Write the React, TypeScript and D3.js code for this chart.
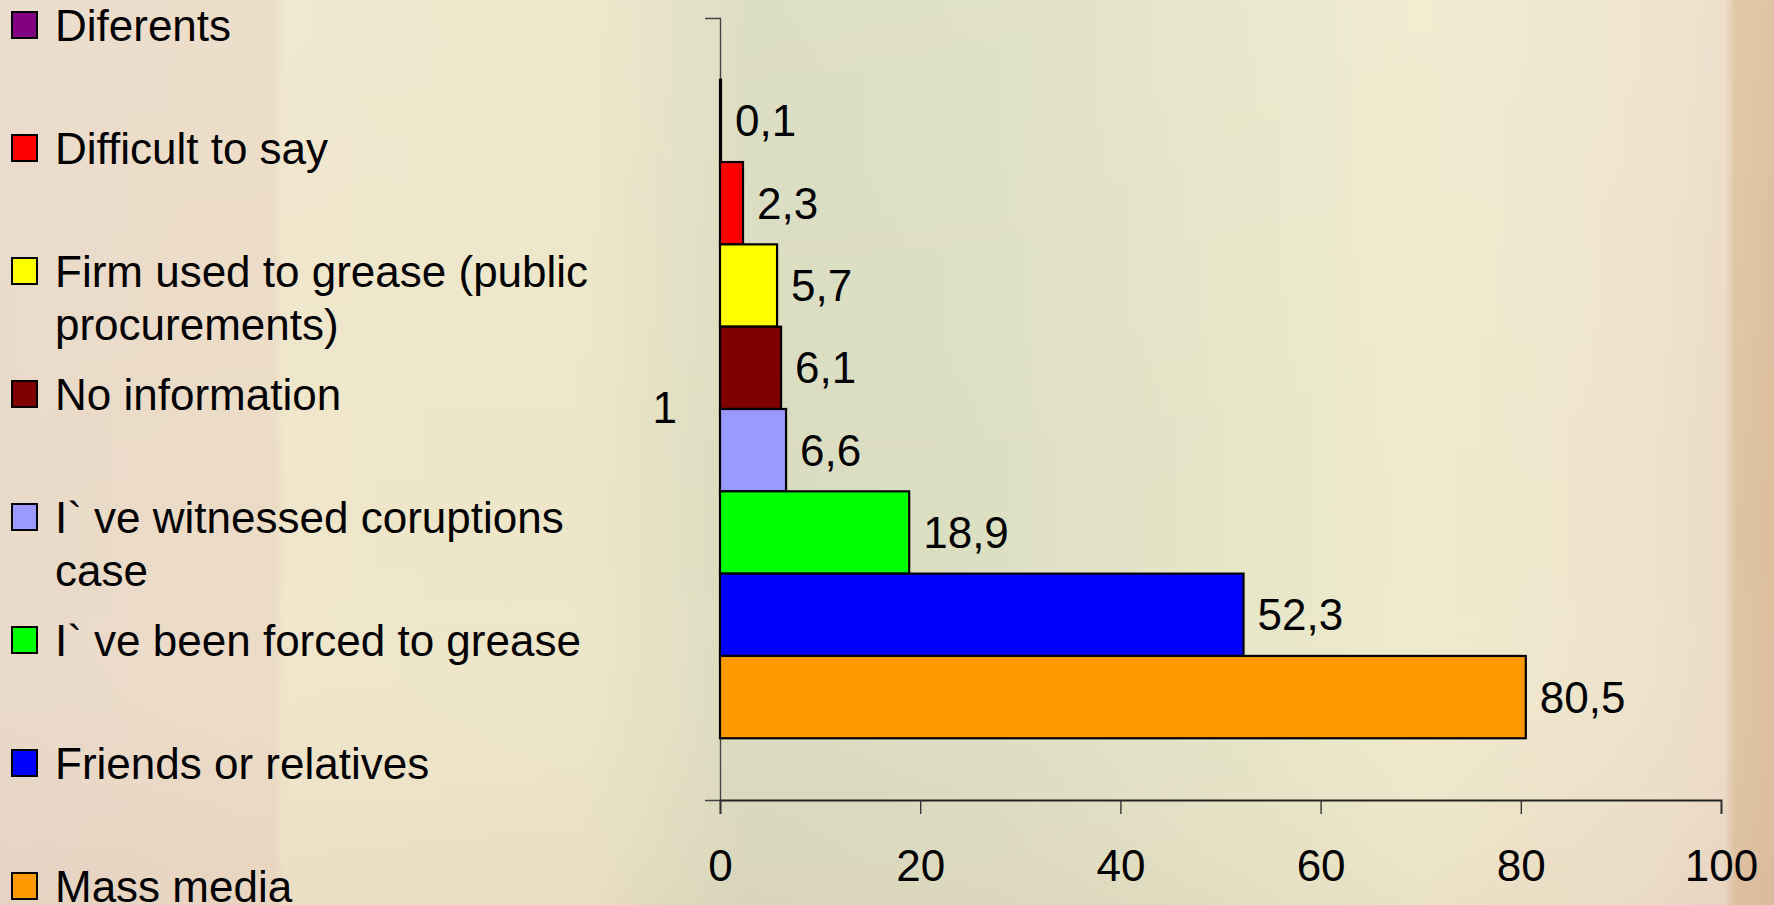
import React, { useEffect, useRef } from 'react';
import * as d3 from 'd3';

// series in legend order (top to bottom)
const seriesNames = [
  'Diferents',
  'Difficult to say',
  'Firm used to grease (public procurements)',
  'No information',
  'I` ve witnessed coruptions case',
  'I` ve been forced to grease',
  'Friends or relatives',
  'Mass media',
];
const seriesValues = [0.1, 2.3, 5.7, 6.1, 6.6, 18.9, 52.3, 80.5];
const seriesColors = ['#800080', '#ff0000', '#ffff00', '#800000', '#9999ff', '#00ff00', '#0000ff', '#ff9900'];
// how the legend wraps the long names
const legendLines = [
  ['Diferents'],
  ['Difficult to say'],
  ['Firm used to grease (public', 'procurements)'],
  ['No information'],
  ['I` ve witnessed coruptions', 'case'],
  ['I` ve been forced to grease'],
  ['Friends or relatives'],
  ['Mass media'],
];
const categories = ['1'];
const xTicks = [0, 20, 40, 60, 80, 100];

const W = 1774;
const H = 905;
const FONT = '"Liberation Sans", Arial, sans-serif';

export default function App() {
  const xAxisRef = useRef<SVGGElement>(null);
  const yAxisRef = useRef<SVGGElement>(null);

  const x = d3.scaleLinear().domain([0, 100]).range([720, 1721]);
  const yCat = d3.scaleBand().domain(categories).range([18, 800]).padding(0);
  const ySer = d3.scaleBand().domain(seriesNames).range([0, yCat.bandwidth()]).paddingInner(0).paddingOuter(0.75);

  useEffect(() => {
    const gx = d3.select(xAxisRef.current!);
    gx.call(d3.axisBottom(x).tickValues(xTicks).tickSize(14).tickPadding(36).tickFormat(d3.format('d')) as any);
    gx.select('.domain').attr('stroke', '#222').attr('stroke-width', 1.8).attr('fill', 'none');
    gx.selectAll('.tick line').attr('stroke', '#333').attr('stroke-width', 1.4);
    gx.selectAll('.tick text').attr('fill', '#000').style('font-size', '44px').style('font-family', FONT);

    const gy = d3.select(yAxisRef.current!);
    gy.call(d3.axisLeft(yCat).tickSizeInner(0).tickSizeOuter(15).tickPadding(43) as any);
    gy.select('.domain').attr('stroke', '#444').attr('stroke-width', 1.4).attr('fill', 'none');
    gy.selectAll('.tick text').attr('fill', '#000').style('font-size', '44px').style('font-family', FONT);
  }, []);

  return (
    <svg width={W} height={H} style={{ position: 'absolute', left: 0, top: 0, display: 'block' }}>
      <defs>
        <linearGradient id="bgH" x1="0" x2="1" y1="0" y2="0">
          <stop offset="0" stopColor="#e9d9c9" />
          <stop offset="0.155" stopColor="#ecdcc6" />
          <stop offset="0.16" stopColor="#efe6cb" />
          <stop offset="0.33" stopColor="#ede6c8" />
          <stop offset="0.42" stopColor="#dadcc0" />
          <stop offset="0.56" stopColor="#dddfc3" />
          <stop offset="0.70" stopColor="#e6e6c8" />
          <stop offset="0.80" stopColor="#efebcd" />
          <stop offset="0.93" stopColor="#eee2cb" />
          <stop offset="0.972" stopColor="#ecdcc8" />
          <stop offset="0.978" stopColor="#dfc4a2" />
          <stop offset="1" stopColor="#dcbe9c" />
        </linearGradient>
        <linearGradient id="bgV" x1="0" x2="0" y1="0" y2="1">
          <stop offset="0" stopColor="#ffffff" stopOpacity="0.08" />
          <stop offset="0.6" stopColor="#ffffff" stopOpacity="0" />
          <stop offset="1" stopColor="#c9a090" stopOpacity="0.12" />
        </linearGradient>
      </defs>
      <rect x={0} y={0} width={W} height={H} fill="url(#bgH)" />
      <rect x={0} y={0} width={W} height={H} fill="url(#bgV)" />

      <g ref={yAxisRef} transform="translate(720,0)" />
      <g ref={xAxisRef} transform="translate(0,800)" />

      {/* bars */}
      <g>
        {seriesNames.map((s, i) => (
          <rect
            key={s}
            x={x(0)}
            y={yCat('1')! + ySer(s)!}
            width={x(seriesValues[i]) - x(0)}
            height={ySer.bandwidth()}
            fill={seriesColors[i]}
            stroke="#000"
            strokeWidth={2.2}
          />
        ))}
      </g>

      {/* value labels */}
      <g style={{ fontFamily: FONT, fontSize: 44 }}>
        {seriesNames.map((s, i) => (
          <text key={s} x={x(seriesValues[i]) + 14} y={yCat('1')! + ySer(s)! + ySer.bandwidth() / 2} dy="0.35em" fill="#000">
            {String(seriesValues[i]).replace('.', ',')}
          </text>
        ))}
      </g>

      {/* legend */}
      <g style={{ fontFamily: FONT, fontSize: 44 }}>
        {legendLines.map((lines, i) => {
          const cy = 25 + i * 123;
          return (
            <g key={i}>
              <rect x={12} y={cy - 13} width={25} height={26} fill={seriesColors[i]} stroke="#000" strokeWidth={2} />
              {lines.map((ln, j) => (
                <text key={j} x={55} y={cy + 16 + j * 52.6} fill="#000">
                  {ln}
                </text>
              ))}
            </g>
          );
        })}
      </g>
    </svg>
  );
}
